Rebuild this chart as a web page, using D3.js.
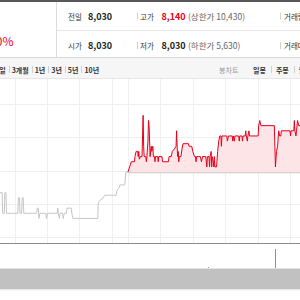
<!DOCTYPE html>
<html>
<head>
<meta charset="utf-8">
<script src="https://cdn.jsdelivr.net/npm/d3@7"></script>
<style>
html,body{margin:0;padding:0;background:#fff;overflow:hidden}
svg{display:block;font-family:"Noto Sans CJK KR","Liberation Sans",sans-serif}
</style>
</head>
<body>
<svg id="chart" width="300" height="300"></svg>
<script>
// minutes from today's 09:00 ; previous session ends (15:30) at the same spot
var prevTime = [-240,-233,-232,-229,-228,-226,-225,-204,-203,-201,-200,-197,-196,-194,-193,-169,-168,-166,-165,-163,
  -152,-151,-149,-131,-130,-129,-127,-126,-121,-120,-118,-114,-113,-105,-104,-102,-56,-55,-52,-46,-43,-22,-20,-16,-15,-6,-4,0];
var prevPrice = [7990,7990,7950,7950,7990,7990,7950,7950,7980,7980,7950,7950,7980,7980,7950,7950,7960,7960,7940,7950,
  7950,7940,7950,7950,7960,7950,7940,7950,7950,7940,7950,7950,7960,7960,7950,7940,7940,7970,7975,7980,7985,7985,7995,8000,8005,8005,8030,8030];

var todayTime = [0,3,6,12,13,15,18,19,20,21,23,26,27,28,29,30,33,34,35,37,38,39,41,43,44,46,47,49,50,51,55,56,57,63,64,75,76,80,82,86,
  89,90,91,92,93,94,95,98,100,102,112,113,118,120,123,125,126,127,130,134,136,138,144,146,147,150,151,152,154,155,156,158,159,160,161,164,
  166,168,170,172,173,174,183,184,186,193,194,195,197,198,205,206,207,211,212,213,217,218,219,221,222,224,225,241,242,244,246,271,273,275,
  277,279,281,283,284,300,301,302,307,308,309,311,312,314,316,319];
var todayPrice = [8030,8040,8050,8050,8060,8070,8070,8060,8070,8055,8060,8060,8100,8140,8080,8060,8060,8050,8060,8090,8130,8120,8060,8080,8070,8080,8060,8060,8050,8060,8060,8050,8060,8060,8050,8050,8060,8060,8070,8075,
  8080,8110,8080,8060,8070,8050,8060,8060,8075,8085,8085,8080,8080,8070,8060,8060,8050,8060,8060,8060,8050,8060,8060,8040,8060,8060,8040,8060,8070,8040,8060,8050,8040,8060,8040,8040,
  8070,8090,8100,8100,8080,8100,8100,8090,8100,8100,8090,8100,8090,8100,8100,8090,8100,8100,8090,8100,8100,8110,8100,8090,8100,8110,8100,8100,8120,8130,8120,8120,8040,8070,
  8080,8110,8100,8100,8110,8110,8100,8110,8110,8130,8110,8100,8110,8130,8120,8120];

var volTime = [148, 272];
var volume = [900, 21000];

var prevClose = 8030;
var hourTicks = [-210,-150,-90,-30,0,60,120,180,240,300];

var rangeTabs = ["1일","3개월","1년","3년","5년","10년"];
var chartLabel = "봉차트";
var chartTabs = ["일봉","주봉","월봉"];
var changeRate = "+1.00%";
var leftLabels = ["전일","시가"], leftValues = ["8,030","8,030"];
var midLabels = ["고가","저가"], midValues = ["8,140","8,030"], limitNotes = ["(상한가 10,430)","(하한가 5,630)"];
var rightLabels = ["거래량","거래대금"];

var svg = d3.select("#chart");
var red = "#e6001b";

var x = d3.scaleLinear().domain([-237, 318.5]).range([0, 300]);
var y = d3.scaleLinear().domain([7904, 8162]).range([237, 104]);
var v = d3.scaleLinear().domain([0, 22000]).range([268, 248]);

// grid
var yDom = y.domain();
var gridVals = d3.range(5).map(function(i){ return yDom[0] + i * (yDom[1] - yDom[0]) / 4; });
svg.append("g").selectAll("line").data(gridVals).enter().append("line")
  .attr("x1", 0).attr("x2", 300)
  .attr("y1", function(d){ return Math.round(y(d)) + 0.5; })
  .attr("y2", function(d){ return Math.round(y(d)) + 0.5; })
  .attr("stroke", "#efefef");
svg.append("g").selectAll("line").data(hourTicks).enter().append("line")
  .attr("x1", function(d){ return Math.round(x(d)) + 0.5; })
  .attr("x2", function(d){ return Math.round(x(d)) + 0.5; })
  .attr("y1", 79).attr("y2", 243)
  .attr("stroke", "#efefef");

var prevData = prevTime.map(function(t, i){ return [t, prevPrice[i]]; });
var todayData = todayTime.map(function(t, i){ return [t, todayPrice[i]]; });

// fill above prev close
var area = d3.area()
  .x(function(d){ return x(d[0]); })
  .y0(y(prevClose))
  .y1(function(d){ return y(d[1]); });
svg.append("path").datum(todayData).attr("d", area).attr("fill", "#fde5e7");

// prev close reference
svg.append("line")
  .attr("x1", x(0)).attr("x2", 300)
  .attr("y1", y(prevClose) + 0.5).attr("y2", y(prevClose) + 0.5)
  .attr("stroke", "#d2d2d2").attr("stroke-width", 1.2);

var line = d3.line()
  .x(function(d){ return x(d[0]); })
  .y(function(d){ return y(d[1]); });
svg.append("path").datum(prevData).attr("d", line)
  .attr("fill", "none").attr("stroke", "#c6c6c6").attr("stroke-width", 1);
svg.append("path").datum(todayData).attr("d", line)
  .attr("fill", "none").attr("stroke", red).attr("stroke-width", 1);

// axis line
svg.append("line").attr("x1", 0).attr("x2", 300).attr("y1", 243.5).attr("y2", 243.5)
  .attr("stroke", "#8a8a8a").attr("stroke-width", 1.2);

// volume
svg.append("g").selectAll("rect").data(volume).enter().append("rect")
  .attr("x", function(d, i){ return Math.round(x(volTime[i])); })
  .attr("width", 1)
  .attr("y", function(d){ return v(d); })
  .attr("height", function(d){ return Math.max(1, 268 - v(d)); })
  .attr("fill", "#8f87b0");

// navigator band
svg.append("rect").attr("x", 0).attr("y", 268).attr("width", 300).attr("height", 1).attr("fill", "#e2e2e2");
svg.append("rect").attr("x", 0).attr("y", 269).attr("width", 300).attr("height", 20.5).attr("fill", "#c1c1c1");
svg.append("rect").attr("x", 0).attr("y", 289.5).attr("width", 300).attr("height", 1).attr("fill", "#ededed");

// header panel
svg.append("rect").attr("x", 0).attr("y", 0).attr("width", 300).attr("height", 57).attr("fill", "#fff");
svg.append("rect").attr("x", 0).attr("y", 0).attr("width", 300).attr("height", 2).attr("fill", "#585858");
svg.append("line").attr("x1", 56.5).attr("x2", 56.5).attr("y1", 2).attr("y2", 57).attr("stroke", "#dcdcdc");
svg.append("line").attr("x1", 57).attr("x2", 300).attr("y1", 30.5).attr("y2", 30.5).attr("stroke", "#e8e8e8");

svg.append("text").attr("x", 13.5).attr("y", 46).attr("text-anchor", "end")
  .attr("font-size", 12).attr("fill", red).text(changeRate);

var rowY = [19.5, 49];
rowY.forEach(function(ry, i){
  svg.append("text").attr("x", 68).attr("y", ry).attr("font-size", 7.5).attr("fill", "#333").text(leftLabels[i]);
  svg.append("text").attr("x", 88).attr("y", ry).attr("font-size", 9).attr("font-weight", "bold").attr("fill", "#222").text(leftValues[i]);
  svg.append("line").attr("x1", 137.5).attr("x2", 137.5).attr("y1", ry - 7).attr("y2", ry).attr("stroke", "#cfcfcf");
  svg.append("text").attr("x", 140).attr("y", ry).attr("font-size", 7.5).attr("fill", "#333").text(midLabels[i]);
  svg.append("text").attr("x", 161.5).attr("y", ry).attr("font-size", 9).attr("font-weight", "bold")
    .attr("fill", i == 0 ? red : "#222").text(midValues[i]);
  svg.append("text").attr("x", 188).attr("y", ry).attr("font-size", 8.5).attr("fill", "#666").text(limitNotes[i]);
  svg.append("line").attr("x1", 280.5).attr("x2", 280.5).attr("y1", ry - 7).attr("y2", ry).attr("stroke", "#cfcfcf");
  svg.append("text").attr("x", 284).attr("y", ry).attr("font-size", 7.5).attr("fill", "#333").text(rightLabels[i]);
});

// tab bar
svg.append("rect").attr("x", 0).attr("y", 57).attr("width", 300).attr("height", 22).attr("fill", "#f6f6f6");
svg.append("line").attr("x1", 0).attr("x2", 300).attr("y1", 57.5).attr("y2", 57.5).attr("stroke", "#d8d8d8");
svg.append("line").attr("x1", 0).attr("x2", 300).attr("y1", 78.5).attr("y2", 78.5).attr("stroke", "#e6e6e6");

// lays tabs one after another, separators half way in the gap
function tabRow(items, x0, anchorEnd, gap){
  var xx = null;
  items.forEach(function(s, i){
    var t = svg.append("text").attr("y", 72.5).attr("font-size", 7).attr("font-weight", "bold")
      .attr("fill", "#333").text(s);
    var w = t.node().getComputedTextLength();
    if (xx === null) xx = anchorEnd ? x0 - w : x0;
    t.attr("x", xx);
    xx += w + gap;
    if (i < items.length - 1) {
      var sx = Math.round(xx - gap / 2) + 0.5;
      svg.append("line").attr("x1", sx).attr("x2", sx)
        .attr("y1", 66).attr("y2", 73).attr("stroke", "#d0d0d0");
    }
  });
}
tabRow(rangeTabs, 5.7, true, 6);
svg.append("text").attr("x", 219).attr("y", 72.5).attr("font-size", 7).attr("fill", "#999").text(chartLabel);
tabRow(chartTabs, 253, false, 10);
</script>
</body>
</html>
